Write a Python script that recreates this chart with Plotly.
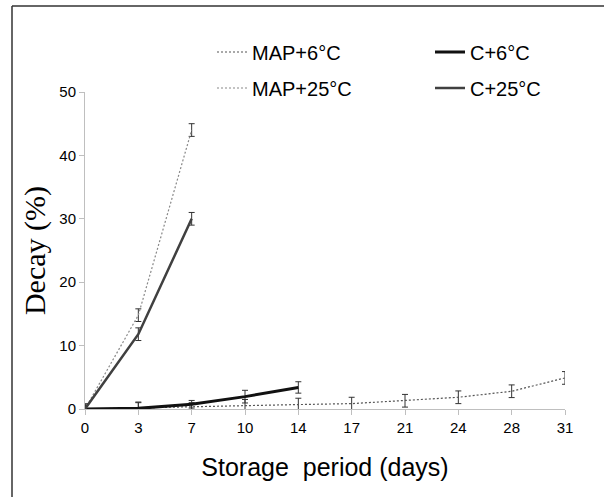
import plotly.graph_objects as go

days = ["0", "3", "7", "10", "14", "17", "21", "24", "28", "31"]
idx = list(range(len(days)))

map6 = [0, 0.2, 0.3, 0.5, 0.7, 0.85, 1.3, 1.85, 2.8, 4.9]
map6_err = [0.5, 0.9, 0.7, 1.0, 1.0, 1.0, 1.0, 1.0, 1.0, 1.0]
c6 = [0, 0.1, 0.75, 1.95, 3.4]
c6_err = [0.5, 0.9, 0.6, 1.0, 0.9]
map25 = [0, 14.8, 44]
map25_err = [0.8, 1.0, 1.0]
c25 = [0, 11.8, 30]
c25_err = [0.8, 1.0, 1.0]

W, H = 604, 497
# plot area in screen px: x 85..565, y 92..409
ML, MT = 85, 92
MR = W - 565
MB = H - 409
PW, PH = W - ML - MR, H - MT - MB

def sx(px):
    return (px - ML) / PW

def sy(py):
    return (H - MB - py) / PH

err_style = dict(type="data", thickness=1, width=3, color="#333333")

fig = go.Figure()
fig.add_trace(go.Scatter(x=idx[:len(map6)], y=map6, name="MAP+6°C", mode="lines",
                         line=dict(color="#555555", width=1.2, dash="2px,2px"),
                         error_y=dict(array=map6_err, **err_style), legend="legend"))
fig.add_trace(go.Scatter(x=idx[:len(c6)], y=c6, name="C+6°C", mode="lines",
                         line=dict(color="#111111", width=3),
                         error_y=dict(array=c6_err, **err_style), legend="legend2"))
fig.add_trace(go.Scatter(x=idx[:len(map25)], y=map25, name="MAP+25°C", mode="lines",
                         line=dict(color="#888888", width=1.2, dash="2px,2px"),
                         error_y=dict(array=map25_err, **err_style), legend="legend3"))
fig.add_trace(go.Scatter(x=idx[:len(c25)], y=c25, name="C+25°C", mode="lines",
                         line=dict(color="#404040", width=2.5),
                         error_y=dict(array=c25_err, **err_style), legend="legend4"))

lfont = dict(family="Liberation Sans, Arial, sans-serif", size=20, color="#000000")
def leg(xpx, ypx):
    return dict(x=sx(xpx), y=sy(ypx), xanchor="left", yanchor="middle",
                font=lfont, bgcolor="rgba(0,0,0,0)", borderwidth=0)

border = dict(color="#333333", width=1.5)

fig.update_layout(
    width=W, height=H,
    margin=dict(l=ML, r=MR, t=MT, b=MB, autoexpand=False),
    paper_bgcolor="white", plot_bgcolor="white",
    showlegend=True,
    legend=leg(212, 52), legend2=leg(430, 52),
    legend3=leg(212, 88), legend4=leg(430, 88),
    font=dict(family="Liberation Sans, Arial, sans-serif", color="#000000"),
    xaxis=dict(range=[0, len(days) - 1], tickmode="array", tickvals=idx, ticktext=days,
               showgrid=False, zeroline=False, showline=True, linecolor="#bfbfbf", linewidth=1,
               ticks="outside", ticklen=5, tickcolor="#bfbfbf", automargin=False,
               tickfont=dict(size=15, color="#000000"),
               title=dict(text="Storage\u00a0 period (days)", font=dict(size=25), standoff=23)),
    yaxis=dict(range=[0, 50], tickvals=[0, 10, 20, 30, 40, 50],
               showgrid=False, zeroline=False, showline=True, linecolor="#bfbfbf", linewidth=1,
               ticks="outside", ticklen=5, tickcolor="#bfbfbf", automargin=False,
               tickfont=dict(size=15, color="#000000"),
               title=dict(text="Decay (%)", font=dict(family="Liberation Serif, Times New Roman, serif", size=30),
                          standoff=4)),
    shapes=[
        dict(type="line", xref="paper", yref="paper", x0=sx(12), x1=sx(W), y0=sy(6), y1=sy(6),
             line=border, layer="above"),
        dict(type="line", xref="paper", yref="paper", x0=sx(12), x1=sx(12), y0=sy(6), y1=sy(H),
             line=border, layer="above"),
    ],
)

fig.write_html("out.html", config={"displayModeBar": False},
               post_script="document.body.style.margin='0';document.body.style.overflow='hidden';")
